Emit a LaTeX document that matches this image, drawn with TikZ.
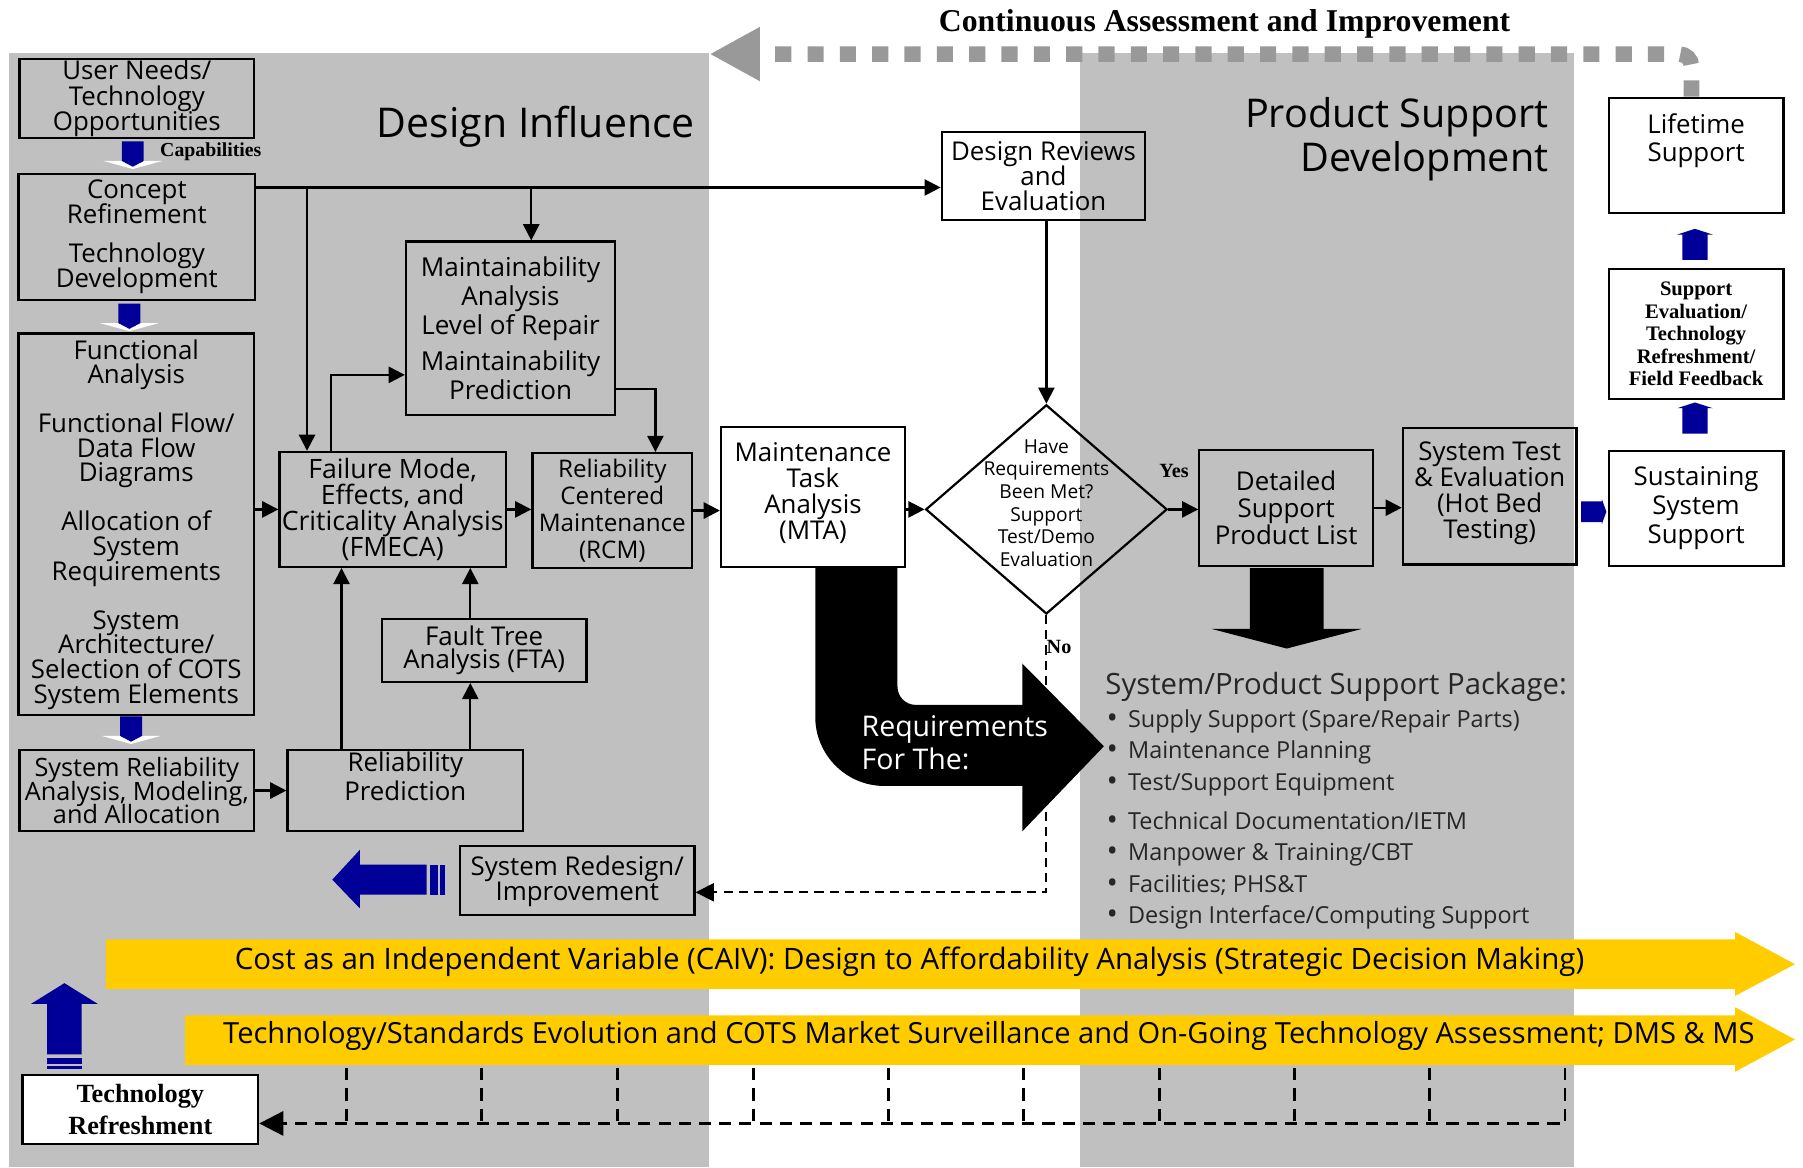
\documentclass[tikz,border=0pt]{standalone}
\usepackage{fontspec}
\usepackage{xcolor}
\usepackage{tikz}
\setmainfont{Open Sans}
\newfontfamily\tms{Liberation Serif}
\usetikzlibrary{calc, shapes.geometric}
\usetikzlibrary{arrows.meta}

\definecolor{panel}{RGB}{192,192,192}
\definecolor{navy}{RGB}{0,0,153}
\definecolor{gold}{RGB}{255,204,0}
\definecolor{loopgray}{RGB}{153,153,153}
\newcommand{\fsz}[2]{\fontsize{#1}{#2}\selectfont}
\newcommand{\pkb}{\raisebox{-0.5pt}{\fsz{15}{15}\textbullet}\hspace{5pt}}

\begin{document}
\lineskiplimit=-10pt
\begin{tikzpicture}[x=0.02cm, y=-0.02cm]
	% 定义样式
	\tikzset{
	box/.style = {draw, line width=1.1pt, align=center, inner sep=0pt, font=\fsz{12.8}{12.4}},
	arrow/.style = {arrows = {-Triangle[length=8pt, width=8pt]}, line width=1.1pt},
	darrow/.style = {arrows = {-Triangle[length=9pt, width=9pt]}, line width=0.9pt, dash pattern=on 4.5pt off 3pt},
	tdash/.style = {line width=1.4pt, dash pattern=on 6pt off 4pt},
	tarrow/.style = {arrows = {-Triangle[length=12pt, width=12pt]}},
	cycarrow/.style = {draw=loopgray, line width=7.7pt, dash pattern=on 8pt off 8pt, rounded corners=6pt,
		arrows = {-Triangle[length=25pt, width=25pt]}},
	capdown/.pic = {
		\fill[white] (-25.5,17) -- (25.5,17) -- (0,24) -- cycle;
		\fill[navy] (-9.5,0) -- (9.5,0) -- (9.5,17) -- (0,22) -- (-9.5,17) -- cycle;
	},
	supup/.pic = {
		\fill[navy] (-11,0) -- (11,0) -- (11,-22) -- (15.5,-22) -- (0,-27) -- (-15.5,-22) -- (-11,-22) -- cycle;
	}
	}
	\useasboundingbox (0,0) rectangle (1568,1015);

	% 背景
	\fill[panel] (8,46) rectangle (617,1015);
	\fill[panel] (939,46) rectangle (1369,1015);

	% 方框
	\node[box, minimum width=4.08cm, minimum height=1.38cm] (un) at (119,85.5) {User Needs/\\Technology\\Opportunities};
	\node[box, minimum width=4.12cm, minimum height=2.2cm] (cr) at (119,206) {Concept\\Refinement\\[7pt]Technology\\Development};
	\node[box, minimum width=4.1cm, minimum height=6.64cm, font=\fsz{12.8}{12.2}] (fa) at (118.5,456) {Functional\\Analysis\\[12pt]Functional Flow/\\Data Flow\\Diagrams\\[12pt]Allocation of\\System\\Requirements\\[12pt]System\\Architecture/\\Selection of COTS\\System Elements};
	\node[box, minimum width=4.08cm, minimum height=1.42cm, font=\fsz{12.5}{11.4}] (sr) at (119,687.5) {System Reliability\\Analysis, Modeling,\\and Allocation};
	\node[box, minimum width=4.1cm, minimum height=1.42cm, font=\fsz{12.8}{14.2}] (rp) at (352.5,687.5) {Reliability\\Prediction\\~};
	\node[box, minimum width=3.94cm, minimum height=2cm, font=\fsz{13.2}{12.9}] (fm) at (341.5,443) {Failure Mode,\\Effects, and\\Criticality Analysis\\(FMECA)};
	\node[box, minimum width=2.78cm, minimum height=2cm, font=\fsz{12}{13.3}] (rcm) at (532.5,444) {Reliability\\Centered\\Maintenance\\(RCM)};
	\node[box, minimum width=3.64cm, minimum height=3.02cm, font=\fsz{12.9}{14.2}] (mp) at (444,285.5) {Maintainability\\Analysis\\Level of Repair\\[4pt]Maintainability\\Prediction};
	\node[box, minimum width=3.56cm, minimum height=1.1cm, font=\fsz{12.8}{11.4}] (fta) at (421,565.5) {Fault Tree\\Analysis (FTA)};
	\node[box, fill=white, minimum width=3.2cm, minimum height=2.44cm, font=\fsz{12.8}{12.9}] (mta) at (707,432) {Maintenance\\Task\\Analysis\\(MTA)\\[-7pt]~};
	\node[box, minimum width=3.54cm, minimum height=1.52cm] (dre) at (907.5,153) {Design Reviews\\and\\Evaluation};
	\node[draw, diamond, line width=1.1pt, minimum width=4.2cm, minimum height=3.64cm, inner sep=0pt] (dia) at (910,443) {};
	\node[align=center, inner sep=0pt, font=\fsz{9.5}{11.2}] (diat) at (910,437.5) {Have\\Requirements\\Been Met?\\Support\\Test/Demo\\Evaluation};
	\node[box, minimum width=3.02cm, minimum height=2.02cm, font=\fsz{12.8}{13.4}] (dsp) at (1118.5,441.5) {Detailed\\Support\\Product List};
	\node[box, minimum width=3.02cm, minimum height=2.38cm, font=\fsz{12.8}{12.9}] (ste) at (1295.5,431.5) {System Test\\\& Evaluation\\(Hot Bed\\Testing)\\[-7pt]~};
	\node[box, fill=white, minimum width=3.04cm, minimum height=2cm, font=\fsz{12.8}{14.5}] (sss) at (1475,442) {Sustaining\\System\\Support};
	\node[box, fill=white, minimum width=3.04cm, minimum height=2.26cm, font=\tms\bfseries\fsz{10.2}{11.1}] (sev) at (1475,290.5) {Support\\Evaluation/\\Technology\\Refreshment/\\Field Feedback};
	\node[box, fill=white, minimum width=3.04cm, minimum height=2cm, font=\fsz{12.8}{13.7}] (lts) at (1475,135) {Lifetime\\Support\\[4pt]~};
	\node[box, minimum width=4.08cm, minimum height=1.2cm] (red) at (502,766) {System Redesign/\\Improvement};
	\node[box, fill=white, minimum width=4.1cm, minimum height=1.2cm, font=\tms\bfseries\fsz{13}{16}] (tr) at (122,965) {Technology\\Refreshment};

	% 持续改进回路
	\coordinate (caend) at (617,47);
	\draw[cycarrow] (lts.north -| 1471,0) |- (caend);

	% 连线
	\coordinate (cr1) at ($(cr.north east)+(0,13)$);
	\draw[arrow] (cr1) -- (cr1 -| dre.west);
	\draw[arrow] (cr1 -| 267,0) -- (fm.north -| 267,0);
	\draw[arrow] (cr1 -| 462,0) -- (mp.north -| 462,0);
	\draw[arrow] (fm.north -| 288,0) |- ($(mp.west)+(0,40.5)$);
	\draw[arrow] ($(mp.east)+(0,52.5)$) -| (rcm.north -| 570,0);
	\draw[arrow] (fa.east |- fm.west) -- (fm.west);
	\draw[arrow] (fm.east) -- (rcm.west |- fm.east);
	\draw[arrow] (rcm.east) -- (mta.west |- rcm.east);
	\draw[arrow] (mta.east |- dia.west) -- (dia.west);
	\draw[arrow] (dre.south -| dia.north) -- (dia.north);
	\draw[arrow] (dia.east) -- (dsp.west |- dia.east);
	\draw[arrow] (dsp.east) -- (ste.west |- dsp.east);
	\draw[arrow] (sr.east) -- (rp.west);
	\draw[arrow] (rp.north -| 297,0) -- (fm.south -| 297,0);
	\draw[arrow] (rp.north -| 409,0) -- (fta.south -| 409,0);
	\draw[arrow] (fta.north -| 409,0) -- (fm.south -| 409,0);
	\draw[darrow] (dia.south) |- ($(red.east)+(0,10)$);

	% 蓝色箭头
	\pic at (115.5,123) {capdown};
	\pic at (112.5,264) {capdown};
	\pic at (114,623) {capdown};
	\pic at (1474,226) {supup};
	\pic at (1474,377) {supup};
	\fill[navy] (1375,436) -- (1393,436) -- (1393,434) -- (1397,445) -- (1393,456) -- (1393,454) -- (1375,454) -- cycle;
	\fill[navy] (289,765) -- (313,739) -- (313,752) -- (371,752) -- (371,778) -- (313,778) -- (313,790) -- cycle;
	\fill[navy] (374,752) rectangle (381,778);
	\fill[navy] (383,752) rectangle (387,778);
	\fill[navy] (56,855) -- (85,873) -- (71,873) -- (71,917) -- (41,917) -- (41,873) -- (27,873) -- cycle;
	\fill[navy] (41,920) rectangle (71,925.5);
	\fill[navy] (41,927) rectangle (71,930);

	% 黑色箭头
	\fill[black] (709,494) -- (780.5,494) -- (780.5,597) .. controls (780.5,606) and (787.5,613) .. (796.5,613)
		-- (889,613) -- (889,577) -- (960,649) -- (889,723) -- (889,683.5) -- (769,683.5)
		.. controls (736,683.5) and (709,656.5) .. (709,623.5) -- cycle;
	\fill[black] (1087,494) -- (1151,494) -- (1151,547) -- (1184,547) -- (1119,564) -- (1054,547) -- (1087,547) -- cycle;

	% 黄色箭头
	\fill[gold] (92,817) -- (1509,817) -- (1509,810.5) -- (1561,838.5) -- (1509,866) -- (1509,860) -- (92,860) -- cycle;
	\fill[gold] (161,883) -- (1509,883) -- (1509,876) -- (1561,904) -- (1509,932) -- (1509,926) -- (161,926) -- cycle;

	% 底部虚线
	\coordinate (yb) at (161,929);
	\coordinate (hl) at ($(tr.east)+(0,12)$);
	\draw[tdash] (yb -| 301,0) -- (hl -| 301,0);
	\draw[tdash] (yb -| 419,0) -- (hl -| 419,0);
	\draw[tdash] (yb -| 537,0) -- (hl -| 537,0);
	\draw[tdash] (yb -| 655,0) -- (hl -| 655,0);
	\draw[tdash] (yb -| 773,0) -- (hl -| 773,0);
	\draw[tdash] (yb -| 890,0) -- (hl -| 890,0);
	\draw[tdash] (yb -| 1008,0) -- (hl -| 1008,0);
	\draw[tdash] (yb -| 1126,0) -- (hl -| 1126,0);
	\draw[tdash] (yb -| 1243,0) -- (hl -| 1243,0);
	\draw[tdash, tarrow] (yb -| 1361,0) |- (hl);

	% 文字
	\node[font=\fsz{20.3}{21.6}] (di) at (466,110) {Design Influence};
	\node[font=\fsz{19.6}{21.6}, align=right, anchor=east, inner sep=0pt] (psd) at (1347,121) {Product Support\\Development};
	\node[font=\tms\bfseries\fsz{15.7}{18}] (cai) at (1065,21) {Continuous Assessment and Improvement};
	\node[font=\tms\bfseries\fsz{9.8}{11}, anchor=west, inner sep=0pt] (cap) at (139,132) {Capabilities};
	\node[font=\tms\bfseries\fsz{10}{11}] (yes) at (1021,410) {Yes};
	\node[font=\tms\bfseries\fsz{10}{11}] (no) at (921,563) {No};
	\node[font=\fsz{14.1}{16}, text=white, align=left, anchor=west, inner sep=0pt] (req) at (749,646) {Requirements\\For The:};
	\node[font=\fsz{14.5}{16}, text=black!85, anchor=west, inner sep=0pt] (pkg) at (961,597) {System/Product Support Package:};
	\node[font=\fsz{11.6}{15.6}, text=black!85, align=left, anchor=west, inner sep=0pt] (pkl) at (962,712.5)
		{\pkb Supply Support (Spare/Repair Parts)\\
		 \pkb Maintenance Planning\\
		 \pkb Test/Support Equipment\\[3.7pt]
		 \pkb Technical Documentation/IETM\\
		 \pkb Manpower \& Training/CBT\\
		 \pkb Facilities; PHS\&T\\
		 \pkb Design Interface/Computing Support};
	\node[font=\fsz{14.6}{15}] (caiv) at (791,836) {Cost as an Independent Variable (CAIV): Design to Affordability Analysis (Strategic Decision Making)};
	\node[font=\fsz{14.4}{15}] (tse) at (860,901) {Technology/Standards Evolution and COTS Market Surveillance and On-Going Technology Assessment; DMS \& MS};

\end{tikzpicture}
\end{document}
